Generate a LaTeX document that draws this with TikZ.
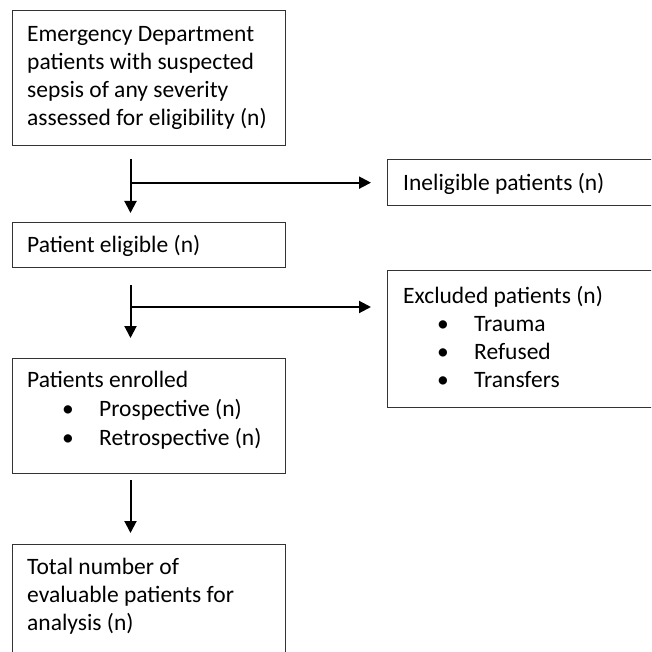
\documentclass[tikz,border=0pt]{standalone}
\usepackage{fontspec}
\setmainfont{Carlito}
\usetikzlibrary{arrows.meta}
\tikzset{
  box/.style={draw=black!80, line width=1.3pt, rectangle, inner sep=0pt, anchor=north west},
  txt/.style={anchor=base west, inner sep=0pt, font=\fontsize{23.5pt}{28pt}\selectfont},
  bul/.style={anchor=base, inner sep=0pt, font=\fontsize{23.5pt}{28pt}\selectfont},
  flow/.style={draw=black, line width=2pt, -{Triangle[length=12pt,width=12pt]}}
}
\begin{document}
\begin{tikzpicture}[x=1pt,y=-1pt]
\clip (0,0) rectangle (651,652);
\fill[white] (0,0) rectangle (651,652);
% boxes
\node[box, minimum width=273pt, minimum height=135pt] (b1) at (12,10) {};
\node[box, minimum width=273pt, minimum height=45pt] (b2) at (12,222) {};
\node[box, minimum width=273pt, minimum height=115pt] (b3) at (12,358) {};
\node[box, minimum width=273pt, minimum height=130pt] (b4) at (12,544) {};
\node[box, minimum width=290pt, minimum height=46pt] (inel) at (387,159) {};
\node[box, minimum width=290pt, minimum height=137pt] (excl) at (387,270) {};
% texts
\node[txt] (t11) at (27,42) {Emergency Department};
\node[txt] (t12) at (27,70) {patients with suspected};
\node[txt] (t13) at (27,98) {sepsis of any severity};
\node[txt] (t14) at (27,126) {assessed for eligibility (n)};
\node[txt] (t21) at (27,252) {Patient eligible (n)};
\node[txt] (t31) at (27,387) {Patients enrolled};
\node[bul] (p1) at (68,416) {•};
\node[txt] (t32) at (99,416) {Prospective (n)};
\node[bul] (p2) at (68,445) {•};
\node[txt] (t33) at (99,445) {Retrospective (n)};
\node[txt] (t41) at (27,574) {Total number of};
\node[txt] (t42) at (27,602) {evaluable patients for};
\node[txt] (t43) at (27,630) {analysis (n)};
\node[txt] (ti) at (403,190) {Ineligible patients (n)};
\node[txt] (te1) at (403,303) {Excluded patients (n)};
\node[bul] (q1) at (443,331) {•};
\node[txt] (te2) at (474,331) {Trauma};
\node[bul] (q2) at (443,359) {•};
\node[txt] (te3) at (474,359) {Refused};
\node[bul] (q3) at (443,387) {•};
\node[txt] (te4) at (474,387) {Transfers};
% connectors
\coordinate (c1) at (130.5,159);
\coordinate (c2) at (130.5,285);
\coordinate (h2) at (130.5,307);
\coordinate (c3) at (130.5,480);
\draw[flow, shorten >=9pt] (c1) -- (b2.north -| c1);
\draw[flow, shorten >=16pt] (c1 |- inel.west) -- (inel.west);
\draw[flow, shorten >=20pt] (c2) -- (b3.north -| c2);
\draw[flow, shorten >=16pt] (h2) -- (h2 -| excl.west);
\draw[flow, shorten >=11pt] (c3) -- (b4.north -| c3);
\end{tikzpicture}
\end{document}
